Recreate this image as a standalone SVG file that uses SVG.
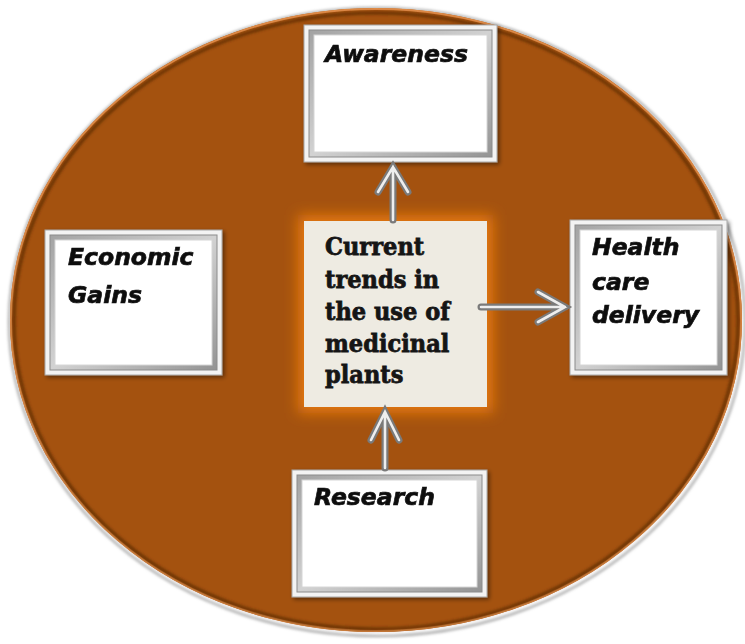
<svg xmlns="http://www.w3.org/2000/svg" width="745" height="644" viewBox="0 0 745 644">
  <defs>
    <style>
      .label { font-family: "DejaVu Sans", "Liberation Sans", sans-serif; font-weight: bold; font-style: italic; font-size: 23.5px; fill: #111; stroke: #111; stroke-width: 0.7; }
      .core { font-family: "DejaVu Serif", "Liberation Serif", serif; font-weight: bold; font-size: 24.5px; fill: #151515; stroke: #151515; stroke-width: 0.8; }
      .frame-outer { fill: #f3f3f3; stroke: #a8a8a8; stroke-width: 1; }
      .frame-bevel { fill: url(#bevelGrad); stroke: #8c8c8c; stroke-width: 1; }
      .frame-face { fill: #ffffff; stroke: #d6d6d6; stroke-width: 1; }
      .shaft-out { stroke: #7a7a7a; stroke-width: 7; fill: none; stroke-linecap: round; stroke-linejoin: miter; }
      .shaft-in { stroke: #eeeeee; stroke-width: 2.6; fill: none; stroke-linecap: round; stroke-linejoin: miter; }
    </style>
    <linearGradient id="bevelGrad" x1="0" y1="0" x2="1" y2="1">
      <stop offset="0" stop-color="#a3a3a3"/>
      <stop offset="0.5" stop-color="#d2d2d2"/>
      <stop offset="1" stop-color="#939393"/>
    </linearGradient>
    <filter id="frameShadow" x="-10%" y="-10%" width="125%" height="125%">
      <feGaussianBlur in="SourceAlpha" stdDeviation="2"/>
      <feOffset dx="2" dy="2" result="s"/>
      <feComponentTransfer><feFuncA type="linear" slope="0.45"/></feComponentTransfer>
      <feMerge><feMergeNode/><feMergeNode in="SourceGraphic"/></feMerge>
    </filter>
    <filter id="glow" x="-30%" y="-30%" width="160%" height="160%">
      <feGaussianBlur stdDeviation="7"/>
    </filter>
    <filter id="rimBlur" x="-5%" y="-5%" width="110%" height="110%">
      <feGaussianBlur stdDeviation="1.5"/>
    </filter>
  </defs>

  <rect width="745" height="644" fill="#ffffff"/>

  <!-- background disc with rim -->
  <g id="disc">
    <ellipse cx="377" cy="322" rx="368" ry="314" fill="none" stroke="#9a9a9a" stroke-width="2" filter="url(#rimBlur)"/>
    <ellipse cx="376" cy="320" rx="366" ry="312" fill="#a4520f"/>
    <ellipse cx="376" cy="320" rx="365" ry="311" fill="none" stroke="#e08c47" stroke-width="2"/>
    <ellipse cx="376" cy="321" rx="362" ry="308" fill="none" stroke="#5c2b06" stroke-width="2.5" filter="url(#rimBlur)"/>
  </g>

  <!-- central topic -->
  <g id="node-core">
    <rect x="298" y="215" width="195" height="198" fill="#e5780f" filter="url(#glow)"/>
    <rect x="304" y="221" width="183" height="186" fill="#eeebe2"/>
    <g transform="translate(325 0) scale(0.92 1)">
      <text class="core" x="0" y="255">Current</text>
      <text class="core" x="0" y="288">trends in</text>
      <text class="core" x="0" y="320">the use of</text>
      <text class="core" x="0" y="352">medicinal</text>
      <text class="core" x="0" y="383">plants</text>
    </g>
  </g>

  <g id="node-awareness" filter="url(#frameShadow)">
    <rect class="frame-outer" x="304" y="25" width="193" height="137"/>
    <rect class="frame-bevel" x="309" y="30" width="183" height="127"/>
    <rect class="frame-face" x="314" y="35" width="173" height="117"/>
    <text class="label" x="325" y="62">Awareness</text>
  </g>

  <g id="node-economic" filter="url(#frameShadow)">
    <rect class="frame-outer" x="45" y="230" width="177" height="145"/>
    <rect class="frame-bevel" x="50" y="235" width="167" height="135"/>
    <rect class="frame-face" x="55" y="240" width="157" height="125"/>
    <text class="label" x="68" y="265">Economic</text>
    <text class="label" x="68" y="303">Gains</text>
  </g>

  <g id="node-health" filter="url(#frameShadow)">
    <rect class="frame-outer" x="570" y="220" width="157" height="155"/>
    <rect class="frame-bevel" x="575" y="225" width="147" height="145"/>
    <rect class="frame-face" x="580" y="230" width="137" height="135"/>
    <text class="label" x="592" y="255">Health</text>
    <text class="label" x="592" y="290">care</text>
    <text class="label" x="592" y="323">delivery</text>
  </g>

  <g id="node-research" filter="url(#frameShadow)">
    <rect class="frame-outer" x="292" y="470" width="195" height="127"/>
    <rect class="frame-bevel" x="297" y="475" width="185" height="117"/>
    <rect class="frame-face" x="302" y="480" width="175" height="107"/>
    <text class="label" x="314" y="505">Research</text>
  </g>

  <!-- silver connectors -->
  <g id="connectors">
    <g id="edge-core-awareness">
      <path class="shaft-out" d="M393 220 V167 M378 192 L393 167 L408 192"/>
      <path class="shaft-in" d="M393 220 V167 M378 192 L393 167 L408 192"/>
    </g>
    <g id="edge-core-health">
      <path class="shaft-out" d="M481 307 H565 M538 292 L565 307 L538 322"/>
      <path class="shaft-in" d="M481 307 H565 M538 292 L565 307 L538 322"/>
    </g>
    <g id="edge-research-core">
      <path class="shaft-out" d="M385 468 V412 M371 440 L385 412 L399 440"/>
      <path class="shaft-in" d="M385 468 V412 M371 440 L385 412 L399 440"/>
    </g>
  </g>
</svg>
